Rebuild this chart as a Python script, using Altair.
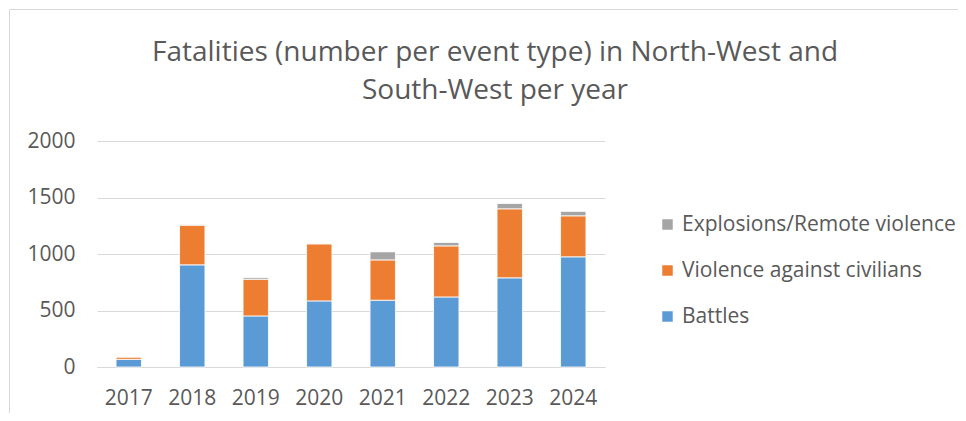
import altair as alt
import pandas as pd

years = ["2017", "2018", "2019", "2020", "2021", "2022", "2023", "2024"]
battles = [68, 904, 452, 585, 591, 620, 789, 975]
violence_civilians = [21, 351, 325, 505, 357, 452, 611, 363]
explosions = [0, 5, 15, 3, 71, 30, 47, 39]

types = ["Explosions/Remote violence", "Violence against civilians", "Battles"]
colors = ["#A5A5A5", "#ED7D31", "#5B9BD5"]
stack_order = {"Battles": 0, "Violence against civilians": 1, "Explosions/Remote violence": 2}

rows = []
for i, y in enumerate(years):
    rows.append({"year": y, "type": "Battles", "value": battles[i]})
    rows.append({"year": y, "type": "Violence against civilians", "value": violence_civilians[i]})
    rows.append({"year": y, "type": "Explosions/Remote violence", "value": explosions[i]})
df = pd.DataFrame(rows)
df["ord"] = df["type"].map(stack_order)

FONT = "Open Sans"
GREY = "#595959"

bars = alt.Chart(df).mark_bar(stroke="white", strokeWidth=0.8).encode(
    x=alt.X("year:N", sort=years, title=None,
            scale=alt.Scale(paddingInner=0.6, paddingOuter=0.3),
            axis=alt.Axis(labelAngle=0, ticks=False, domain=True, domainColor="#d9d9d9",
                          domainWidth=1, labelPadding=20, labelFontSize=21,
                          labelFont=FONT, labelColor=GREY, grid=False)),
    y=alt.Y("sum(value):Q", title=None,
            scale=alt.Scale(domain=[0, 2000], nice=False),
            axis=alt.Axis(values=[0, 500, 1000, 1500, 2000], ticks=False, domain=False,
                          format="d",
                          gridColor="#d9d9d9", gridWidth=1, labelPadding=22,
                          labelFontSize=21, labelFont=FONT, labelColor=GREY)),
    color=alt.Color("type:N", scale=alt.Scale(domain=types, range=colors),
                    legend=alt.Legend(title=None, orient="none", legendX=560, legendY=73,
                                      symbolType="square", symbolSize=110,
                                      symbolStrokeWidth=0, labelFontSize=21,
                                      labelFont=FONT, labelColor=GREY,
                                      rowPadding=24, labelOffset=4, labelLimit=400)),
    order=alt.Order("ord:Q", sort="ascending"),
)

border = alt.Chart(pd.DataFrame({"a": [0]})).mark_rect(
    fill=None, stroke="#d9d9d9", strokeWidth=1
).encode(
    x=alt.value(-87.5), x2=alt.value(883), y=alt.value(-131.5), y2=alt.value(300)
)

chart = alt.layer(border, bars).properties(
    width=508,
    height=226,
    padding={"left": 89, "top": 133, "right": 353, "bottom": 46},
    autosize=alt.AutoSizeParams(type="none"),
    title=alt.TitleParams(
        text=["Fatalities (number per event type) in North-West and", "South-West per year"],
        anchor="middle", dx=144, offset=-96, fontSize=28, font=FONT,
        fontWeight="normal", color=GREY, lineHeight=38,
    ),
).configure(background="white").configure_view(stroke="transparent", strokeWidth=0)

chart.save("out.html", embed_options={"renderer": "svg", "actions": False})
